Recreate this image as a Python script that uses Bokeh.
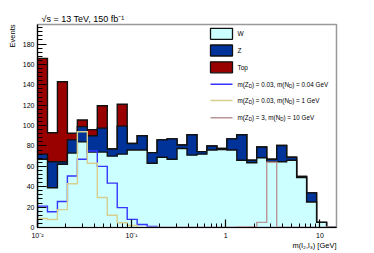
import numpy as np
from bokeh.plotting import figure
from bokeh.models import Range1d, FixedTicker, Label, Title
from bokeh.embed import file_html
from bokeh.resources import INLINE

# ---------------- data ----------------
X_MIN, X_MAX, N_BINS = 0.01, 15.0, 30
Y_MAX = 199.2
edges = np.logspace(np.log10(X_MIN), np.log10(X_MAX), N_BINS + 1)

w_bkg = [67, 39, 62, 73, 84, 74, 74, 70, 72, 76, 76, 63, 69, 67, 77.5,
         71, 72, 76, 76.5, 76, 66, 63.5, 68.5, 64.5, 64.5, 66, 49, 25, 5, 0]
z_bkg = [5, 25.5, 2.5, 13, 15, 16, 23.5, 7, 27.5, 6.5, 14, 10.5, 17, 20, 3.5,
         20, 2.5, 4, 1, 11, 25, 2.5, 10.5, 2.5, 16, 3, 1, 9, 0, 0]
top_bkg = [94, 28.5, 78.5, 6.5, 6.5, 6, 22, 0, 21.5, 0, 0, 0, 0, 0, 0,
           0, 0, 0, 0, 0, 0, 0, 0, 0, 0, 0, 0, 0, 0, 0]
sig_a = [21, 15.5, 25.5, 50.5, 67, 75, 60, 43.5, 19.5, 8, 3, 1, 0, 0, 0,
         0, 0, 0, 0, 0, 0, 0, 0, 0, 0, 0, 0, 0, 0, 0]
sig_b = [8.8, 7.9, 17.5, 43, 94, 63, 29.5, 12, 4.7, 2, 0, 0, 0, 0, 0,
         0, 0, 0, 0, 0, 0, 0, 0, 0, 0, 0, 0, 0, 0, 0]
sig_c = [0, 0, 0, 0, 0, 0, 0, 0, 0, 0, 0, 0, 0, 0, 0,
         0, 0, 0, 0, 0, 0.6, 0.6, 5, 64, 0, 0, 0, 0, 0, 0]

y_ticks = [0, 20, 40, 60, 80, 100, 120, 140, 160, 180]
x_ticks = [0.01, 0.1, 1, 10]
x_tick_labels = {0.01: "10\u207b\u00b2", 0.1: "10\u207b\u00b9", 1: "1", 10: "10"}

C_W, C_Z, C_TOP = "#ccffff", "#003399", "#990000"
C_SA, C_SB, C_SC = "#3535ff", "#d6cf90", "#b89696"
FONT = "Liberation Sans"

# ---------------- layout ----------------
W, H = 374, 253
FL, FR, FT, FB = 37, 336, 24, 227


def dx(ix):
    return 10 ** (np.log10(X_MIN) + (ix - FL) / (FR - FL) * np.log10(X_MAX / X_MIN))


def dy(iy):
    return (FB - iy) / (FB - FT) * Y_MAX


p = figure(width=W, height=H, x_axis_type="log",
           x_range=Range1d(X_MIN, X_MAX), y_range=Range1d(0, Y_MAX),
           output_backend="svg", toolbar_location=None,
           min_border_left=FL, min_border_right=W - FR,
           min_border_top=FT, min_border_bottom=H - FB)
p.grid.visible = False
p.outline_line_color = "#999999"
p.outline_line_width = 1.5
p.background_fill_color = "white"
p.border_fill_color = "white"


def outline(vals):
    xs, ys = [edges[0]], [0]
    for i, v in enumerate(vals):
        xs += [edges[i], edges[i + 1]]
        ys += [v, v]
    xs.append(edges[-1])
    ys.append(0)
    return xs, ys


w_arr = np.array(w_bkg, dtype=float)
wz_arr = w_arr + np.array(z_bkg, dtype=float)
tot_arr = wz_arr + np.array(top_bkg, dtype=float)

for vals, col in [(tot_arr, C_TOP), (wz_arr, C_Z), (w_arr, C_W)]:
    y2 = list(vals) + [vals[-1]]
    p.varea_step(x=list(edges), y1=[0] * len(edges), y2=y2,
                 step_mode="after", fill_color=col)
    xs, ys = outline(vals)
    p.line(xs, ys, line_color="#111111", line_width=1.4, line_join="miter")

for vals, col in [(sig_a, C_SA), (sig_b, C_SB), (sig_c, C_SC)]:
    xs, ys = outline(vals)
    p.line(xs, ys, line_color=col, line_width=1.4, line_join="miter")

# ---------------- axes ----------------
minor_x = [k * 10.0 ** d for d in (-2, -1, 0, 1) for k in range(2, 10) if k * 10.0 ** d < X_MAX]
p.xaxis.ticker = FixedTicker(ticks=x_ticks, minor_ticks=minor_x)
p.xaxis.major_label_overrides = x_tick_labels
p.yaxis.ticker = FixedTicker(ticks=y_ticks, minor_ticks=list(range(0, 200, 4)))
for ax in (p.xaxis, p.yaxis):
    ax.axis_line_color = "black"
    ax.axis_line_width = 1.2
    ax.major_tick_line_color = "black"
    ax.minor_tick_line_color = "black"
    ax.major_tick_line_width = 1.2
    ax.minor_tick_line_width = 1.0
    ax.major_tick_out = 0
    ax.minor_tick_out = 0
    ax.major_label_text_font = FONT
    ax.major_label_text_font_size = "7px"
    ax.major_label_text_color = "black"
p.xaxis.major_tick_in = 8
p.xaxis.minor_tick_in = 4
p.yaxis.major_tick_in = 9
p.yaxis.minor_tick_in = 5
p.xaxis.major_label_standoff = 4
p.yaxis.major_label_standoff = 3

# ---------------- titles (side panels, not clipped) ----------------
p.title.text = "\u221as = 13 TeV, 150 fb\u207b\u00b9"
p.title.align = "left"
p.title.offset = 4
p.title.standoff = 2
p.title.text_font = FONT
p.title.text_font_size = "9px"
p.title.text_font_style = "normal"
p.title.text_color = "black"

p.add_layout(Title(text="Events", align="right", text_font=FONT,
                   text_font_size="7.5px", text_font_style="normal",
                   text_color="black", standoff=6), "left")
p.add_layout(Title(text="m(l\u2082,l\u2083) [GeV]", align="right", text_font=FONT,
                   text_font_size="7.5px", text_font_style="normal",
                   text_color="black", standoff=-6), "below")

# ---------------- legend ----------------
AW = {'m': .833, '(': .333, ')': .333, 'Z': .611, 'N': .722, 'D': .722, ' ': .278,
      '=': .584, '.': .278, ',': .278, 'G': .778, 'e': .556, 'V': .667}


def tw(s, fs):
    return sum(AW.get(c, .556) for c in s) * fs


SW_L, SW_R, TX = 210, 232, 237
box_rows = [("W", C_W, 33.3), ("Z", C_Z, 50.0), ("Top", C_TOP, 66.8)]
for name, col, yc in box_rows:
    p.quad(left=[dx(SW_L)], right=[dx(SW_R)], top=[dy(yc - 5.5)], bottom=[dy(yc + 5.5)],
           fill_color=col, line_color="#111111", line_width=1.3)
    p.add_layout(Label(x=dx(TX), y=dy(yc), text=name, text_font=FONT,
                       text_font_size="6.5px", text_color="black",
                       text_align="left", text_baseline="middle"))

line_rows = [(C_SA, 83.7, "0.03", "0.04 GeV"),
             (C_SB, 100.0, "0.03", "1 GeV"),
             (C_SC, 117.3, "3", "10 GeV")]
FS, FSS = 6.3, 4.6
for col, yc, zd, nd in line_rows:
    p.segment(x0=[dx(SW_L)], x1=[dx(SW_R)], y0=[dy(yc)], y1=[dy(yc)],
              line_color=col, line_width=1.4)
    parts = [("m(Z", False), ("D", True), (") = " + zd + ", m(N", False),
             ("D", True), (") = " + nd, False)]
    off = 0.0
    for txt, sub in parts:
        fs = FSS if sub else FS
        p.add_layout(Label(x=dx(TX), y=dy(yc), text=txt, x_offset=off,
                           y_offset=-2.0 if sub else 0.0,
                           text_font=FONT, text_font_size=f"{fs}px",
                           text_color="black", text_align="left",
                           text_baseline="middle"))
        off += tw(txt, fs)

open("out.html", "w").write(file_html(p, INLINE))
